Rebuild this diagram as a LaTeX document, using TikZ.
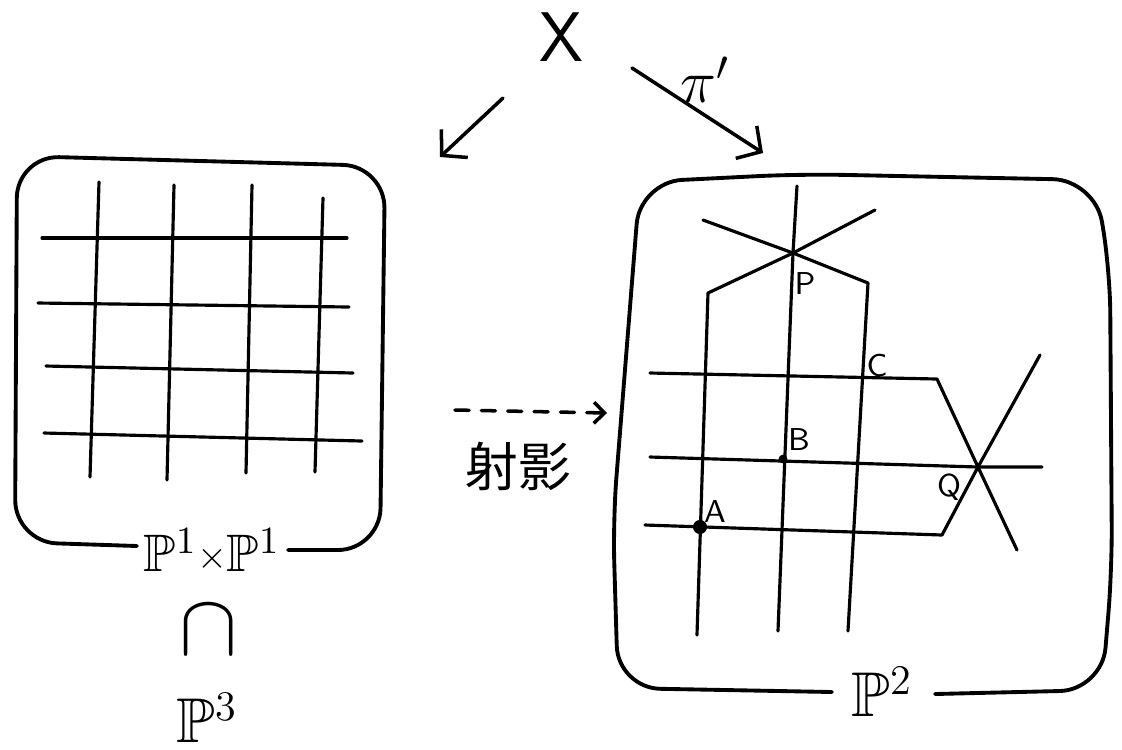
\documentclass[tikz,border=0pt]{standalone}
\usepackage{amssymb,amsmath}
\usepackage{fontspec}
\newfontfamily\jpfont{Noto Sans CJK JP}
\usepackage{tikz}
\usetikzlibrary{arrows.meta,calc,positioning}

\begin{document}
\begin{tikzpicture}[line cap=round, line join=round,
    frame/.style={line width=1.1pt, rounded corners=12pt},
    grid/.style={line width=0.9pt},
    map/.style={line width=1pt, -{Straight Barb[length=5pt,width=11pt,line width=1pt]}},
    proj/.style={line width=1pt, dash pattern=on 4pt off 3.5pt,
        -{Straight Barb[length=3pt,width=6pt,line width=1pt]}},
    space/.style={font=\fontsize{18}{22}\selectfont, inner sep=1pt},
    pt/.style={font=\fontsize{9}{11}\selectfont\sffamily, inner sep=1pt},
    dot/.style={circle, fill, inner sep=0pt, minimum size=4pt}]
\useasboundingbox (0,0) rectangle (11.22,-7.49);

% top of the diagram
\node[font=\fontsize{20}{24}\selectfont\sffamily] (X) at (5.61,-0.37) {X};
\coordinate (xl0) at (5.03,-0.98);
\coordinate (xl1) at (4.40,-1.57);
\coordinate (xr0) at (6.32,-0.68);
\coordinate (xr1) at (7.63,-1.53);
\draw[map] (xl0) -- (xl1);
\draw[map] (xr0) -- (xr1);
\node[font=\fontsize{17}{20}\selectfont] (pi) at (7.05,-0.80) {$\pi'$};

% left box: P^1 x P^1
\draw[frame] (1.37,-5.46) -- (0.15,-5.42) -- (0.17,-1.56) -- (3.85,-1.66)
    -- (3.80,-5.50) -- (2.88,-5.50);
\foreach \xa/\ya/\xb/\yb in {0.99/-1.82/0.90/-4.77, 1.74/-1.85/1.67/-4.80,
    2.52/-1.85/2.46/-4.73, 3.23/-1.98/3.15/-4.72}
  \draw[grid] (\xa,\ya) -- (\xb,\yb);
\foreach \xa/\ya/\xb/\yb in {0.42/-2.38/3.47/-2.38, 0.38/-3.03/3.49/-3.07,
    0.46/-3.66/3.53/-3.73, 0.44/-4.33/3.62/-4.41}
  \draw[grid] (\xa,\ya) -- (\xb,\yb);
\node[space, font=\fontsize{15}{18}\selectfont] (p1p1) at (2.12,-5.50)
    {$\mathbb{P}^1\vcenter{\hbox{$\scriptstyle\times$}}\mathbb{P}^1$};
\node[font=\fontsize{28}{32}\selectfont] (cap) at (2.09,-6.30) {$\cap$};
\node[space] (p3) at (2.07,-7.18) {$\mathbb{P}^3$};

% projection
\coordinate (pr0) at (4.55,-4.10);
\coordinate (pr1) at (6.07,-4.13);
\draw[proj] (pr0) -- (pr1);
\node[font=\fontsize{15}{18}\selectfont\jpfont] (sy) at (5.18,-4.66) {射影};

% right box: P^2
\draw[frame] (9.35,-6.94) -- (11.02,-6.90) -- (11.12,-5.70) -- (11.10,-2.70)
    -- (10.95,-1.80) -- (8.00,-1.74) -- (6.40,-1.82) -- (6.13,-5.20)
    -- (6.18,-6.88) -- (8.32,-6.92);
\node[space] (p2) at (8.82,-6.92) {$\mathbb{P}^2$};

\coordinate (P) at (7.93,-2.53);
\coordinate (Q) at (9.78,-4.67);
\draw[grid] (7.97,-1.86) -- (P) -- (7.78,-6.31);
\draw[grid] (7.03,-2.20) -- (P) -- (8.68,-2.83) -- (8.48,-6.31);
\draw[grid] (8.75,-2.10) -- (P) -- (7.08,-2.93) -- (6.97,-6.35);
\draw[grid] (6.50,-3.73) -- (9.37,-3.79) -- (Q) -- (10.17,-5.50);
\draw[grid] (6.50,-4.57) -- (Q) -- (10.42,-4.67);
\draw[grid] (6.45,-5.25) -- (9.42,-5.35) -- (Q) -- (10.40,-3.55);
\node[dot] (A) at (7.00,-5.27) {};
\node[dot, minimum size=2.5pt] (B) at (7.83,-4.59) {};
\node[pt] at (8.05,-2.84) {P};
\node[pt] at (8.77,-3.66) {C};
\node[pt] at (7.99,-4.40) {B};
\node[pt] at (9.49,-4.87) {Q};
\node[pt] at (7.15,-5.12) {A};
\end{tikzpicture}
\end{document}
